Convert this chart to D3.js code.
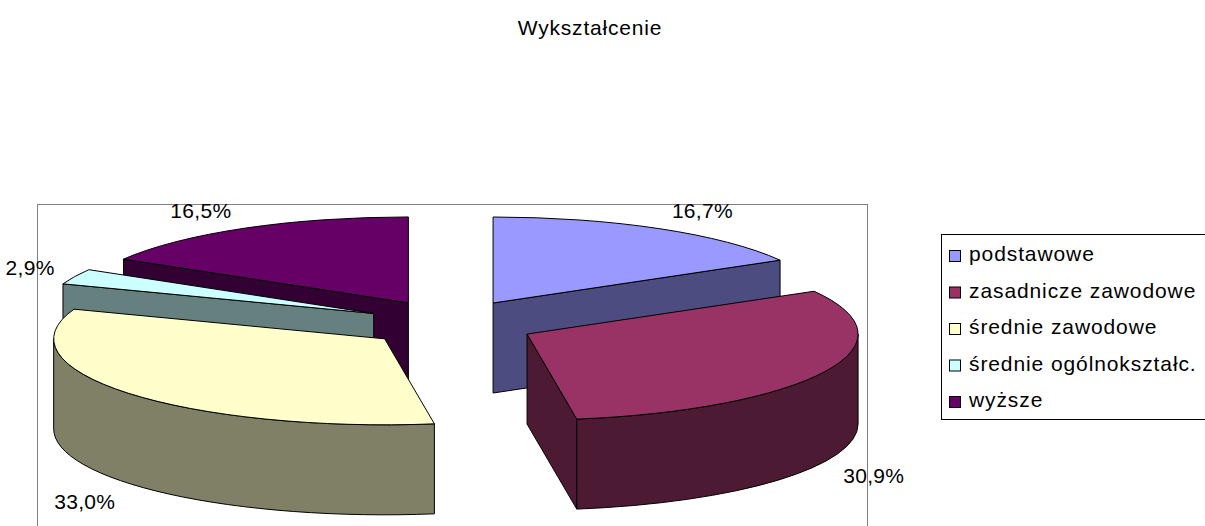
<!DOCTYPE html>
<html><head><meta charset="utf-8">
<script src="https://cdn.jsdelivr.net/npm/d3@7"></script>
<style>html,body{margin:0;padding:0;background:#fff;}svg{display:block;font-family:"Liberation Sans",Arial,sans-serif;}</style>
</head><body>
<script>
const title = "Wykształcenie";
const categories = ["podstawowe","zasadnicze zawodowe","średnie zawodowe","średnie ogólnokształc.","wyższe"];
const values = [16.7, 30.9, 33.0, 2.9, 16.5];
const topColors = ["#9999FF","#993366","#FFFFCC","#CCFFFF","#660066"];
const sideColors = ["#4C4C80","#4D1A33","#808066","#668080","#330033"];

const W = 1205, H = 526;
const svg = d3.select("body").append("svg").attr("width", W).attr("height", H);

// title
svg.append("text").attr("x", 590).attr("y", 35).attr("text-anchor","middle")
  .attr("font-size", 21).attr("letter-spacing", 0.8).attr("fill","#000").text(title);

// plot area border
svg.append("rect").attr("x",37.5).attr("y",204.5).attr("width",830).attr("height",340)
  .attr("fill","none").attr("stroke","#808080").attr("stroke-width",1);

// 3D pie geometry
const cx = 450.5, cy = 323.7, rx = 331, ry = 86, exX = 85, exY = 23.9, depth = 90;
const pie = d3.pie().sort(null).value(d => d);
const arcs = pie(values);
const color = d3.scaleOrdinal().domain(categories).range(topColors);
const side = d3.scaleOrdinal().domain(categories).range(sideColors);

const slices = arcs.map((a, i) => {
  const m = (a.startAngle + a.endAngle) / 2;
  const ax = cx + exX * Math.sin(m), ay = cy - exY * Math.cos(m);
  return {a, i, m, ax, ay};
});
function rim(s, ang, dz) { return [s.ax + rx * Math.sin(ang), s.ay - ry * Math.cos(ang) + (dz||0)]; }

const g = svg.append("g");
const order = slices.slice().sort((p, q) => p.ay - q.ay);
order.forEach(s => {
  const {a} = s, name = categories[s.i];
  const s0 = a.startAngle, s1 = a.endAngle;
  const large = (s1 - s0) > Math.PI ? 1 : 0;
  const faces = [];
  if (Math.sin(s0) < -1e-6) {
    const p = rim(s, s0), pb = rim(s, s0, depth);
    faces.push(`M${s.ax},${s.ay}L${p[0]},${p[1]}L${pb[0]},${pb[1]}L${s.ax},${s.ay+depth}Z`);
  }
  if (Math.sin(s1) > 1e-6) {
    const p = rim(s, s1), pb = rim(s, s1, depth);
    faces.push(`M${s.ax},${s.ay}L${p[0]},${p[1]}L${pb[0]},${pb[1]}L${s.ax},${s.ay+depth}Z`);
  }
  const o0 = Math.max(s0, Math.PI/2), o1 = Math.min(s1, 3*Math.PI/2);
  if (o1 > o0) {
    const p0 = rim(s,o0), p1 = rim(s,o1), q1 = rim(s,o1,depth), q0 = rim(s,o0,depth);
    const lg = (o1 - o0) > Math.PI ? 1 : 0;
    faces.push(`M${p0[0]},${p0[1]}A${rx},${ry} 0 ${lg} 1 ${p1[0]},${p1[1]}L${q1[0]},${q1[1]}A${rx},${ry} 0 ${lg} 0 ${q0[0]},${q0[1]}Z`);
  }
  faces.forEach(d => g.append("path").attr("d", d).attr("fill", side(name))
    .attr("stroke","#000").attr("stroke-width",1).attr("stroke-linejoin","round"));
  const p0 = rim(s, s0), p1 = rim(s, s1);
  g.append("path").attr("d", `M${s.ax},${s.ay}L${p0[0]},${p0[1]}A${rx},${ry} 0 ${large} 1 ${p1[0]},${p1[1]}Z`)
    .attr("fill", color(name)).attr("stroke","#000").attr("stroke-width",1).attr("stroke-linejoin","round");
});

// data labels
slices.forEach(s => {
  const txt = s.a.value.toFixed(1).replace(".", ",") + "%";
  const front = Math.cos(s.m) < 0;
  const r = rim(s, s.m, front ? depth : 0);
  const t = svg.append("text").attr("font-size", 21).attr("letter-spacing", 0.3).attr("fill","#000").text(txt);
  const w = t.node().getComputedTextLength();
  const h = 15;
  const sx = Math.sin(s.m) >= 0 ? 1 : -1;
  const ccx = r[0] + sx * (w/2 + 13 + (front && sx > 0 ? 5 : 0) + (!front && Math.abs(Math.cos(s.m)) < 0.5 ? 7 : 0));
  const ccy = r[1] - Math.cos(s.m) * (h/2 + 13) + (front ? 5 : 0);
  t.attr("x", ccx).attr("y", ccy + h/2).attr("text-anchor","middle");
});

// legend
const lg = svg.append("g");
lg.append("rect").attr("x",941.5).attr("y",234.5).attr("width",300).attr("height",185)
  .attr("fill","#fff").attr("stroke","#000").attr("stroke-width",1);
const ly = d3.scalePoint().domain(categories).range([261, 407]);
categories.forEach(c => {
  lg.append("rect").attr("x",949.5).attr("y",ly(c)-10.5).attr("width",11).attr("height",11)
    .attr("fill", color(c)).attr("stroke","#000").attr("stroke-width",1);
  lg.append("text").attr("x",969).attr("y",ly(c)).attr("font-size",21).attr("letter-spacing",0.9)
    .attr("fill","#000").text(c);
});
</script>
</body></html>
